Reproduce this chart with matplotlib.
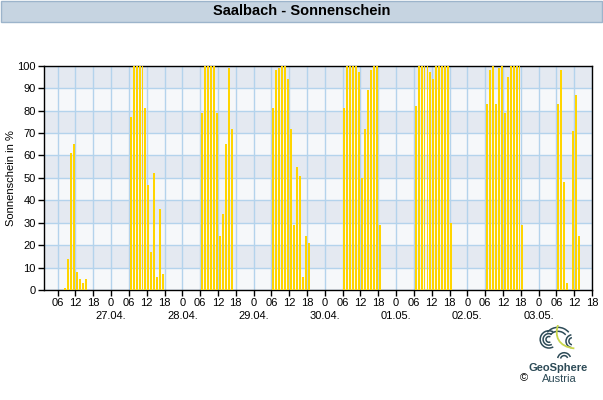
import numpy as np
import matplotlib.pyplot as plt
from matplotlib.patches import Rectangle, Arc
from matplotlib.path import Path
from matplotlib.patches import PathPatch

plt.rcParams['font.family'] = ['Liberation Sans', 'DejaVu Sans']

# hourly sunshine (%) per day, starting at the first hour listed in first_hour
date_labels = ["27.04.", "28.04.", "29.04.", "30.04.", "01.05.", "02.05.", "03.05."]
first_hour = [8, 6, 6, 6, 6, 6, 6, 6]
sun_d0 = [1, 14, 61, 65, 8, 5, 3, 5]
sun_d1 = [77, 100, 100, 100, 100, 81, 47, 17, 52, 6, 36, 7]
sun_d2 = [79, 100, 100, 100, 100, 79, 24, 34, 65, 99, 72]
sun_d3 = [81, 98, 99, 100, 100, 94, 72, 29, 55, 51, 6, 24, 21]
sun_d4 = [81, 100, 100, 100, 100, 97, 50, 72, 89, 98, 100, 100, 29]
sun_d5 = [82, 100, 100, 100, 100, 97, 94, 100, 100, 100, 100, 100, 30]
sun_d6 = [83, 98, 100, 83, 99, 100, 79, 95, 100, 100, 100, 100, 29]
sun_d7 = [83, 98, 48, 3, 0, 71, 87, 24]
days = [sun_d0, sun_d1, sun_d2, sun_d3, sun_d4, sun_d5, sun_d6, sun_d7]

hours = []
values = []
for d, (h0, vals) in enumerate(zip(first_hour, days)):
    for i, v in enumerate(vals):
        hours.append(d * 24 + h0 + i)
        values.append(v)
hours = np.array(hours)
values = np.array(values)

fig = plt.figure(figsize=(6.03, 4.0), dpi=100)

# title bar
fig.patches.append(Rectangle((0.001, 1 - 22 / 400), 0.997, 21.5 / 400, transform=fig.transFigure,
                             facecolor='#c6d4e1', edgecolor='#9cb4cb', lw=1))
fig.text(0.5, 1 - 11 / 400, "Saalbach - Sonnenschein", ha='center', va='center',
         fontsize=10.5, fontweight='bold')

ax = fig.add_axes([44 / 603, 1 - 290 / 400, (592 - 44) / 603, (290 - 65.7) / 400])
ax.set_facecolor('#f6f8fa')
for lo in range(10, 100, 20):
    ax.axhspan(lo, lo + 10, color='#e4e9f1', lw=0, zorder=0)

ax.bar(hours + 0.58, values, width=0.66, color='#ffd500', zorder=3)

ax.set_xlim(1.4, 186)
ax.set_ylim(0, 100)
xt = np.arange(6, 187, 6)
ax.set_xticks(xt)
ax.set_xticklabels(["0" if h % 24 == 0 else "%02d" % (h % 24) for h in xt])
ax.set_yticks(np.arange(0, 101, 10))
ax.grid(True, color='#b4d3ec', lw=1, zorder=1)
ax.set_axisbelow(True)
ax.tick_params(direction='out', length=4, width=1, labelsize=8, pad=2)
for s in ax.spines.values():
    s.set_linewidth(1)
ax.set_ylabel("Sonnenschein in %", fontsize=8, labelpad=1)

for i, lab in enumerate(date_labels):
    ax.text(24 * (i + 1), -0.116, lab, transform=ax.get_xaxis_transform(),
            ha='center', va='center', fontsize=8)

# GeoSphere Austria logo (approximation)
lax = fig.add_axes([538 / 603, 1 - 361 / 400, 40 / 603, 36 / 400])
lax.set_xlim(0, 1.1)
lax.set_ylim(0, 1)
lax.axis('off')
teal = '#2d4b57'
for r in (0.08, 0.16, 0.24):
    lax.add_patch(Arc((0.3, 0.6), r * 2, r * 2, theta1=60, theta2=300, color=teal, lw=1.1))
for r in (0.1, 0.18):
    lax.add_patch(Arc((0.95, 0.55), r * 2, r * 2, theta1=100, theta2=260, color=teal, lw=1.1))
for r in (0.1, 0.18):
    lax.add_patch(Arc((0.72, 0.05), r * 2, r * 2, theta1=20, theta2=170, color=teal, lw=1.1))
for r in (0.25, 0.35):
    lax.add_patch(Arc((0.55, 0.55), r * 2.2, r * 2.2, theta1=40, theta2=140, color=teal, lw=1.1))
lime = Path([(0.55, 1.0), (0.45, 0.7), (0.55, 0.4), (1.0, 0.35)],
            [Path.MOVETO, Path.CURVE4, Path.CURVE4, Path.CURVE4])
lax.add_patch(PathPatch(lime, fill=False, edgecolor='#c9d64b', lw=1.3))

fig.text(558 / 603, 1 - 368 / 400, "GeoSphere", ha='center', va='center',
         fontsize=8, fontweight='bold', color='#2d4b57')
fig.text(559 / 603, 1 - 379 / 400, "Austria", ha='center', va='center',
         fontsize=8, color='#2d4b57')
fig.text(524 / 603, 1 - 378 / 400, "\u00a9", ha='center', va='center', fontsize=8)

fig.savefig("out.png", dpi=100)
